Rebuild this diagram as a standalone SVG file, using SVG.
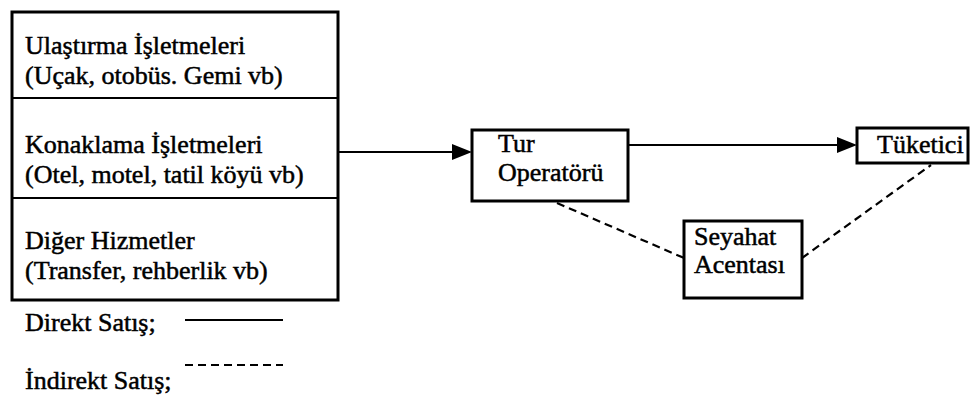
<svg xmlns="http://www.w3.org/2000/svg" width="971" height="406" viewBox="0 0 971 406">
  <defs>
    <style>
      text { font-family: 'Liberation Serif', 'DejaVu Serif', 'Times New Roman', serif; font-size: 26px; fill: #000; stroke: #000; stroke-width: 0.5; }
      .box { fill: #fff; stroke: #000; stroke-width: 3; }
      .div { stroke: #000; stroke-width: 2; }
      .solid { stroke: #000; stroke-width: 2; fill: none; }
      .dash { stroke: #000; stroke-width: 2.2; fill: none; stroke-dasharray: 8 5; }
      .head { fill: #000; }
    </style>
  </defs>
  <rect width="971" height="406" fill="#fff"/>

  <!-- Supplier services: three stacked sections -->
  <g id="suppliers">
    <rect class="box" x="12" y="12" width="326" height="288"/>
    <line class="div" x1="12" y1="98" x2="338" y2="98"/>
    <line class="div" x1="12" y1="198" x2="338" y2="198"/>
    <text x="25" y="54">Ulaştırma İşletmeleri</text>
    <text x="25" y="84">(Uçak, otobüs. Gemi vb)</text>
    <text x="25" y="153">Konaklama İşletmeleri</text>
    <text x="25" y="183">(Otel, motel, tatil köyü vb)</text>
    <text x="25" y="249">Diğer Hizmetler</text>
    <text x="25" y="279">(Transfer, rehberlik vb)</text>
  </g>

  <g id="tur-operatoru">
    <rect class="box" x="472" y="130" width="156" height="71"/>
    <text x="498" y="152">Tur</text>
    <text x="498" y="181">Operatörü</text>
  </g>

  <g id="tuketici">
    <rect class="box" x="857" y="128" width="111" height="35"/>
    <text x="877" y="153">Tüketici</text>
  </g>

  <g id="seyahat-acentasi">
    <rect class="box" x="684" y="221" width="118" height="77"/>
    <text x="694" y="245">Seyahat</text>
    <text x="694" y="273">Acentası</text>
  </g>

  <!-- Connectors -->
  <g id="connectors">
    <line class="solid" x1="339" y1="152" x2="454" y2="152"/>
    <polygon class="head" points="452,144 472,152 452,160"/>
    <line class="solid" x1="628" y1="145" x2="839" y2="145"/>
    <polygon class="head" points="837,137 857,145 837,153"/>
    <line class="dash" x1="557" y1="203" x2="684" y2="258"/>
    <line class="dash" x1="802" y1="258" x2="931" y2="165"/>
  </g>

  <!-- Legend -->
  <g id="legend">
    <text x="25" y="331">Direkt Satış;</text>
    <line class="solid" x1="185" y1="320" x2="283" y2="320"/>
    <text x="25" y="389">İndirekt Satış;</text>
    <line class="dash" x1="185" y1="365" x2="283" y2="365" stroke-dasharray="6 4"/>
  </g>
</svg>
